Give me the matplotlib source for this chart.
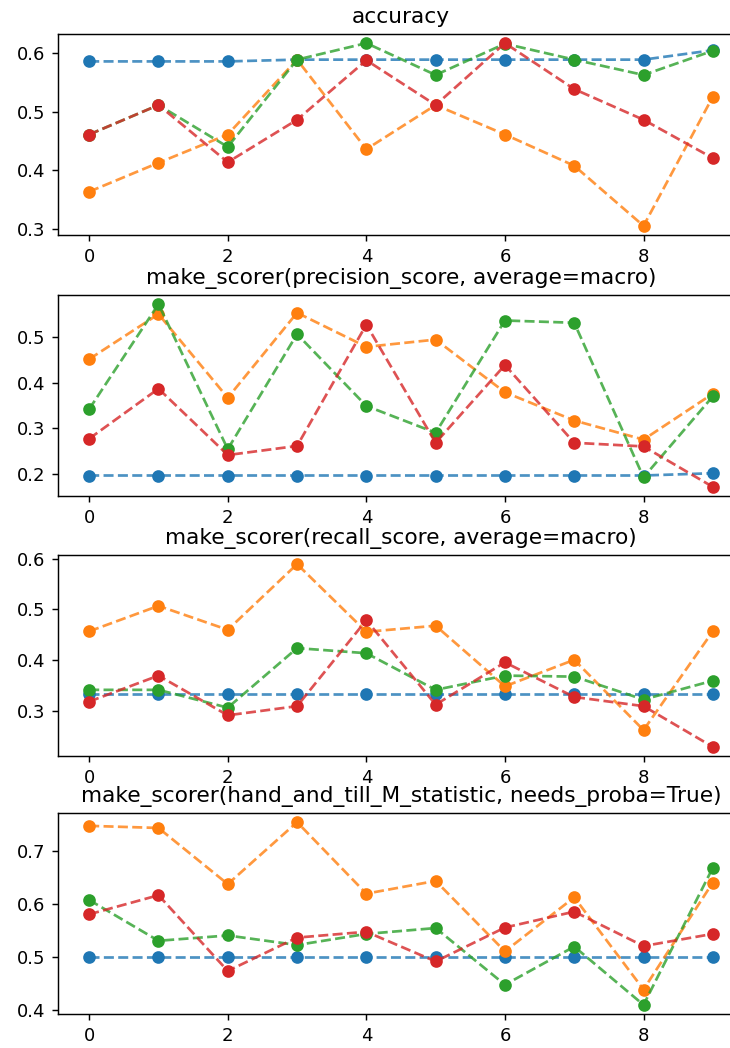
import matplotlib
matplotlib.use('Agg')
import matplotlib.pyplot as plt
import numpy as np

folds = list(range(10))

titles = ['accuracy',
          'make_scorer(precision_score, average=macro)',
          'make_scorer(recall_score, average=macro)',
          'make_scorer(hand_and_till_M_statistic, needs_proba=True)']

# accuracy
acc_blue = [0.585, 0.585, 0.585, 0.588, 0.588, 0.588, 0.588, 0.588, 0.588, 0.604]
acc_orange = [0.364, 0.413, 0.461, 0.588, 0.436, 0.511, 0.461, 0.408, 0.306, 0.525]
acc_green = [0.461, 0.511, 0.440, 0.588, 0.616, 0.562, 0.615, 0.588, 0.562, 0.603]
acc_red = [0.461, 0.511, 0.414, 0.486, 0.587, 0.511, 0.616, 0.538, 0.486, 0.421]

# precision
prec_blue = [0.196, 0.196, 0.196, 0.196, 0.196, 0.196, 0.196, 0.196, 0.196, 0.201]
prec_orange = [0.452, 0.551, 0.367, 0.554, 0.479, 0.495, 0.379, 0.317, 0.275, 0.376]
prec_green = [0.342, 0.573, 0.254, 0.507, 0.349, 0.290, 0.537, 0.532, 0.192, 0.370]
prec_red = [0.277, 0.387, 0.241, 0.261, 0.528, 0.268, 0.439, 0.268, 0.260, 0.171]

# recall
rec_blue = [0.333, 0.333, 0.333, 0.333, 0.333, 0.333, 0.333, 0.333, 0.333, 0.333]
rec_orange = [0.457, 0.507, 0.460, 0.589, 0.456, 0.468, 0.349, 0.401, 0.263, 0.457]
rec_green = [0.342, 0.342, 0.307, 0.424, 0.414, 0.342, 0.370, 0.368, 0.323, 0.360]
rec_red = [0.319, 0.370, 0.292, 0.310, 0.479, 0.313, 0.396, 0.328, 0.310, 0.230]

# hand and till M
m_blue = [0.5, 0.5, 0.5, 0.5, 0.5, 0.5, 0.5, 0.5, 0.5, 0.5]
m_orange = [0.748, 0.744, 0.638, 0.755, 0.620, 0.644, 0.511, 0.613, 0.439, 0.641]
m_green = [0.608, 0.531, 0.541, 0.523, 0.544, 0.555, 0.448, 0.520, 0.410, 0.669]
m_red = [0.581, 0.617, 0.474, 0.537, 0.548, 0.492, 0.556, 0.586, 0.521, 0.544]

scores = [
    [acc_blue, acc_orange, acc_green, acc_red],
    [prec_blue, prec_orange, prec_green, prec_red],
    [rec_blue, rec_orange, rec_green, rec_red],
    [m_blue, m_orange, m_green, m_red],
]
colors = ['tab:blue', 'tab:orange', 'tab:green', 'tab:red']

fig = plt.figure(figsize=(730 / 130, 1048 / 130), dpi=130)

# axes run a bit past the right edge, as in the original screenshot
tops = [34, 295, 555, 813]
for i in range(4):
    ax = fig.add_axes([58 / 730, 1 - (tops[i] + 201) / 1048, 686 / 730, 201 / 1048])
    for vals, c in zip(scores[i], colors):
        ax.plot(folds, vals, '--', color=c, alpha=0.8)
        ax.plot(folds, vals, 'o', color=c)
    ax.set_title(titles[i])

plt.savefig('out.png', dpi=130)
